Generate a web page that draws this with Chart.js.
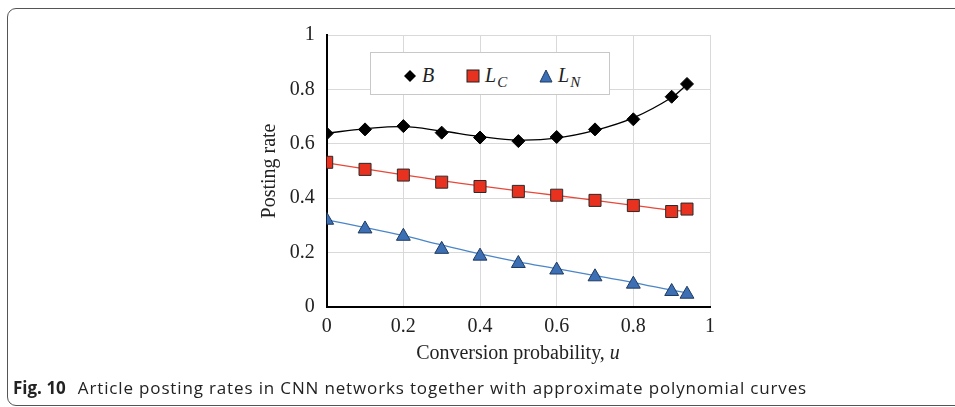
<!DOCTYPE html>
<html>
<head>
<meta charset="utf-8">
<script src="https://cdn.jsdelivr.net/npm/chart.js@4.4.1/dist/chart.umd.min.js"></script>
<style>
    html, body { margin: 0; padding: 0; background: #fff; }
    #wrap { position: relative; width: 955px; height: 407px; overflow: hidden; }
    #frame {
        position: absolute; left: 7px; top: 8px; width: 980px; height: 398px;
        border: 1.5px solid #555; border-radius: 9px; box-sizing: border-box;
    }
    #chart { position: absolute; left: 0; top: 0; }
    #legend {
        position: absolute; left: 370px; top: 52px; width: 240px; height: 43px;
        border: 1px solid #c8c8c8; background: #fff; box-sizing: border-box;
        font-family: "Liberation Serif", serif; font-style: italic; font-size: 20px; color: #222;
    }
    #legend .item { position: absolute; top: 11px; height: 22px; line-height: 22px; white-space: nowrap; }
    #legend svg { position: relative; top: 1px; margin-right: 5px; }
    #legend .sub { position: relative; top: 5px; font-size: 15px; margin-left: 1px; }
    #xtitle {
        position: absolute; left: 326px; width: 384px; top: 341px; text-align: center;
        font-family: "Liberation Serif", serif; font-size: 20px; color: #222;
    }
    #caption {
        position: absolute; left: 13px; top: 376px; letter-spacing: 0.85px;
        font-family: "Open Sans", sans-serif; font-size: 17px; color: #222; white-space: nowrap;
    }
    #caption b { font-weight: 700; margin-right: 12px; letter-spacing: 0; }
</style>
</head>
<body>
<div id="wrap">
    <div id="frame"></div>
    <canvas id="chart" width="955" height="407"></canvas>
    <div id="legend">
        <div class="item" style="left: 32px;">
            <svg width="14" height="14"><polygon points="7,1 13,7 7,13 1,7" fill="#000"/></svg>B
        </div>
        <div class="item" style="left: 95px;">
            <svg width="14" height="14"><rect x="1" y="1" width="12" height="12" fill="#e8321f" stroke="#222" stroke-width="1"/></svg>L<span class="sub">C</span>
        </div>
        <div class="item" style="left: 168px;">
            <svg width="14" height="14"><polygon points="7,1 13,13 1,13" fill="#3c6fb4" stroke="#1f3a60" stroke-width="1"/></svg>L<span class="sub">N</span>
        </div>
    </div>
    <div id="xtitle">Conversion probability, <i>u</i></div>
    <div id="caption"><b>Fig. 10</b>Article posting rates in CNN networks together with approximate polynomial curves</div>
</div>

<script>
// Conversion probability u
const uValues = [0, 0.1, 0.2, 0.3, 0.4, 0.5, 0.6, 0.7, 0.8, 0.9, 0.94];

// Measured posting rates
const rateB  = [0.638, 0.653, 0.665, 0.641, 0.623, 0.610, 0.625, 0.653, 0.690, 0.773, 0.820];
const rateLC = [0.532, 0.506, 0.485, 0.459, 0.443, 0.425, 0.411, 0.392, 0.373, 0.351, 0.360];
const rateLN = [0.319, 0.287, 0.260, 0.212, 0.187, 0.160, 0.136, 0.111, 0.084, 0.057, 0.047];

// Approximate polynomial curves at the same u
const fitB  = [0.639, 0.655, 0.663, 0.647, 0.627, 0.614, 0.621, 0.649, 0.695, 0.770, 0.818];
const fitLC = [0.530, 0.508, 0.486, 0.465, 0.445, 0.427, 0.410, 0.392, 0.374, 0.356, 0.352];
const fitLN = [0.320, 0.292, 0.262, 0.228, 0.195, 0.166, 0.141, 0.115, 0.090, 0.062, 0.052];

const axisTicks = [0, 0.2, 0.4, 0.6, 0.8, 1];

function toPoints(ys) {
    return uValues.map((u, i) => ({ x: u, y: ys[i] }));
}

function markers(label, ys, fill, border, style, radius) {
    return {
        label: label,
        data: toPoints(ys),
        order: 0,
        showLine: false,
        pointStyle: style,
        pointRadius: radius,
        pointBackgroundColor: fill,
        pointBorderColor: border,
        pointBorderWidth: 1
    };
}

function curve(label, ys, color) {
    return {
        label: label,
        data: toPoints(ys),
        order: 1,
        showLine: true,
        tension: 0.4,
        borderColor: color,
        borderWidth: 1.3,
        pointRadius: 0
    };
}

const tickFont = { family: 'Liberation Serif', size: 20 };

new Chart(document.getElementById('chart'), {
    type: 'scatter',
    data: {
        datasets: [
            markers('B', rateB, '#000', '#000', 'rectRot', 6.5),
            markers('LC', rateLC, '#e8321f', '#2a2a2a', 'rect', 8.5),
            markers('LN', rateLN, '#3c6fb4', '#1f3a60', 'triangle', 8),
            curve('B fit', fitB, '#000'),
            curve('LC fit', fitLC, '#e8483a'),
            curve('LN fit', fitLN, '#4a86c8')
        ]
    },
    options: {
        responsive: false,
        animation: false,
        layout: { padding: { left: 258, right: 245, top: 35, bottom: 40 } },
        plugins: { legend: { display: false }, tooltip: { enabled: false } },
        scales: {
            x: {
                type: 'linear', min: 0, max: 1,
                afterBuildTicks: s => { s.ticks = axisTicks.map(v => ({ value: v })); },
                afterFit: s => { s.height = 60; },
                grid: { color: '#d9d9d9', lineWidth: 1, drawTicks: false },
                border: { color: '#000', width: 2 },
                ticks: { font: tickFont, color: '#222', padding: 8, maxRotation: 0,
                         callback: v => String(v) }
            },
            y: {
                type: 'linear', min: 0, max: 1,
                afterBuildTicks: s => { s.ticks = axisTicks.map(v => ({ value: v })); },
                afterFit: s => { s.width = 68.7; },
                grid: { color: '#d9d9d9', lineWidth: 1, drawTicks: false },
                border: { color: '#000', width: 2 },
                ticks: { font: tickFont, color: '#222', padding: 12, callback: v => String(v) },
                title: { display: true, text: 'Posting rate', font: tickFont, color: '#222', padding: { top: 0, bottom: 0 } }
            }
        }
    }
});
</script>
</body>
</html>
